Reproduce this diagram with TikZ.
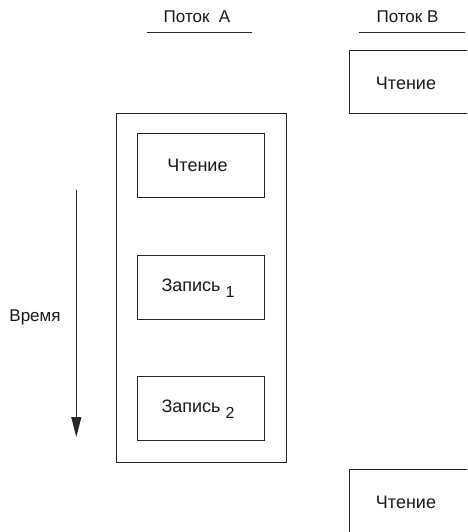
\documentclass[tikz,border=0pt]{standalone}
\usepackage{fontspec}
\setmainfont{Liberation Sans}
\usetikzlibrary{arrows.meta}
\begin{document}
\begin{tikzpicture}[x=1pt,y=-1pt, line width=1pt,
  ln/.style={draw=black!85, line width=1pt},
  box/.style={draw=black!85, rectangle, inner sep=0pt, line width=1pt},
  btext/.style={inner sep=0pt, text=black!90, font=\fontsize{18}{21}\selectfont},
  htext/.style={inner sep=0pt, text=black!90, font=\fontsize{17}{20}\selectfont}]
\useasboundingbox (0,0) rectangle (467,532);
\clip (0,0) rectangle (467,532);
% headers
\node[htext] (hA) at (197,17) {Поток\ \ А};
\node[htext] (hB) at (407.5,17) {Поток В};
\coordinate (ulA1) at (146.7,32.3); \coordinate (ulA2) at (252.3,32.3);
\coordinate (ulB1) at (359.3,32.3); \coordinate (ulB2) at (465,32.3);
\draw[ln] (ulA1) -- (ulA2);
\draw[ln] (ulB1) -- (ulB2);
% thread A frame
\node[box, minimum width=170pt, minimum height=348.7pt] (frame) at (201,288.3) {};
\node[box, minimum width=127.3pt, minimum height=64pt] (rA) at (201.3,165.3) {};
\node[btext] (rAt) at (197.5,165.3) {Чтение};
\node[box, minimum width=127.3pt, minimum height=64pt] (w1) at (201.3,287) {};
\node[btext] (w1t) at (198,288) {Запись\ \raisebox{-6pt}{\fontsize{16}{16}\selectfont 1}};
\node[box, minimum width=127.3pt, minimum height=64pt] (w2) at (201.3,408) {};
\node[btext] (w2t) at (198,409) {Запись\ \raisebox{-6pt}{\fontsize{16}{16}\selectfont 2}};
% thread B
\node[box, minimum width=125pt, minimum height=63.5pt, anchor=north west] (rB1) at (348.5,50) {};
\node[btext] (rB1t) at (406,83) {Чтение};
\node[box, minimum width=125pt, minimum height=80pt, anchor=north west] (rB2) at (348.5,469) {};
\node[btext] (rB2t) at (406,502) {Чтение};
% time arrow
\coordinate (tTop) at (76.3,190);
\coordinate (tBot) at (76.3,437);
\draw[ln, -{Triangle[length=20pt,width=10pt]}, fill=black!85] (tTop) -- (tBot);
\node[btext, font=\fontsize{17}{20}\selectfont] (time) at (35,317) {Время};
\end{tikzpicture}
\end{document}
